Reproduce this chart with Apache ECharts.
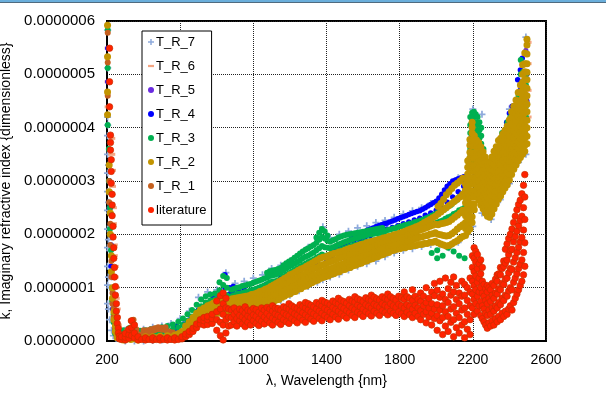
<!DOCTYPE html>
<html><head><meta charset="utf-8">
<script src="https://cdn.jsdelivr.net/npm/echarts@6/dist/echarts.min.js"></script>
<style>html,body{margin:0;padding:0;background:#fff}#c{width:606px;height:404px}</style>
</head><body><div id="c"></div>
<script>
// Axis ticks
const X_TICKS = [200, 600, 1000, 1400, 1800, 2200, 2600];
const Y_TICK_LABELS = ['0.0000000','0.0000001','0.0000002','0.0000003','0.0000004','0.0000005','0.0000006'];
// k values are stored in units of 1e-9; each row: [wavelength nm, k, k, ...]
const K_UNIT = 1e-9;

const literature = [
[214,549,486,439],
[219,386,372,358],[223,340,318,296],[228,275,255,235],[233,215,195],[237,175,155],[241,138,120],[246,102,86],[251,70,56],[256,44,33],[262,24,15],[268,9,4],
[280,3,8],[300,2,7,14],[320,5,12,22],[335,10,25,38],[350,6,15,30],[370,2,8],[390,3],[410,2,6],[430,3],[450,2,6],[470,3],[490,2,6],[510,3],[530,2,6],[550,3],[570,2,6],[590,3],
[610,4,8],[630,8,13],[650,12,18],[670,18,24],[690,25,32],[710,32,40],[730,30,38,44],[750,31,40,46],[775,33,42,50],[800,20,40,55,75],[820,10,35,60,85],[835,2,30,50,70,90],[850,15,40,62,80],[865,28,45,60],
[880,30,44,58],[895,36,50,62],[910,28,42,55],[925,38,48,60],[940,32,45,57],[955,27,40,52,64],[970,35,47,58],[985,30,44,56],[1000,38,49,61],[1015,33,46,59],[1030,29,41,54],[1045,37,50,62],[1060,32,45,58],[1075,40,52,63],[1090,34,47,60],[1105,30,43,56,66],[1120,39,51,62],[1135,35,48,61],[1150,31,45,58],[1165,40,53,64],[1180,36,49,62],[1195,33,47,60,70],[1210,42,55,66],[1225,38,51,63],[1240,34,48,61],[1255,44,57,68],[1270,39,53,65],[1285,35,49,62,72],[1300,45,58,70],[1315,41,54,67],[1330,37,51,64],[1345,47,60,72],[1360,42,56,69],[1375,38,52,66,76],[1390,48,61,73],[1405,44,58,71],[1420,40,54,68],[1435,50,63,75],[1450,45,59,72],[1465,41,56,70,80],[1480,51,64,76],[1495,47,61,74],[1510,43,57,71],[1525,53,66,78],[1540,48,62,75],[1555,44,59,73,83],[1570,54,67,79],[1585,50,64,77],[1600,46,60,74],[1615,55,68,81],[1630,51,65,78],[1645,47,62,76,86],[1660,56,69,82],[1675,52,66,79],[1690,48,63,77],[1705,57,70,83],[1720,53,67,80],[1735,49,64,78,88],[1750,56,70,83],[1765,52,66,80],[1780,48,63,77],[1795,55,69,84],[1810,51,66,81],[1825,46,62,78,92],[1840,54,68,83],[1855,49,65,80],[1870,44,60,76,96],[1885,52,67,84],[1900,46,62,78],[1915,40,57,74,90],[1930,50,66,84],[1945,34,55,72,100],[1960,45,62,80],[1975,30,52,70,92],[1990,42,60,85,108],
[2005,20,48,68,95],[2020,38,58,82,112],[2035,12,44,66,88],[2050,28,55,78,118],[2065,18,46,72,98],[2080,35,60,86,110],[2095,8,40,64,92,120],[2110,25,52,78,104],[2125,15,44,70,90],[2140,30,58,84,112],[2155,6,36,62,86,106],[2170,22,50,76,100],[2185,12,40,66,92,118],
[2198,62,88,112,138,160],[2207,50,78,104,130,155,175],[2216,70,96,122,148,168],[2225,56,84,110,136,162],[2234,66,92,118,145],[2243,48,74,100,126,152],[2252,42,66,90,112,138],[2261,36,60,84,106],[2270,30,52,76,98],[2279,24,48,70,92,104],[2288,34,58,80,100],[2297,28,50,74,96],[2306,38,62,86,108],[2315,30,56,80,104],[2324,42,66,90,116],[2333,36,62,88,112,124],[2342,46,72,98,126],[2351,40,68,96,124,138],[2360,52,80,108,136],[2369,46,76,106,140,150],[2378,56,86,116,146,172],[2387,50,84,118,152,182],[2396,60,94,128,162,192],[2405,66,100,136,170,200],[2414,58,96,134,172,210],[2423,72,110,148,186,222],[2432,80,118,156,196,234],[2441,88,126,166,206,246],[2450,96,136,176,216,256],[2459,104,144,186,226,264],[2468,112,152,194,234,276],[2477,124,166,208,250,292],[2484,140,184,228,270,312]
];

const TR2 = [
[203,592,533,467,424],
[212,330,280],[218,240,200],[224,160,130],[230,100,80],[238,55,40],[246,28,18],[256,12,6],
[270,4],[290,6,2],[310,5],[330,3,8],[350,4],[370,2,7],[390,5],[410,3,8],[430,5],[450,3,8],[470,6],[490,4,9],[510,6],[530,4,10],[550,7],[570,5,11],[590,8,14],
[610,10,18],[630,20,28],[650,27,36],[670,33,44],[690,42,52],[710,48,58],[730,52,62],[750,50,60,66],[765,52,62,68],
[780,50,57,64,71],[795,53,61,68,74],[810,52,59,66,73],[825,55,62,70,76],[840,54,61,68,75],[855,56,63,71,78],[870,55,62,69,77],[885,57,65,72,79],[900,56,64,71,80],[915,59,66,74,81],[930,58,65,73,82],[945,60,68,76,83],[960,59,67,75,84],[975,62,69,77,85],[990,61,70,78,87],[1005,64,72,80,88],[1020,63,72,81,90],[1035,66,75,84,93],[1050,65,74,84,94],[1065,69,78,87,97],[1080,68,78,88,99],[1095,72,81,91,102],[1110,73,83,94,105],[1125,77,86,96,108],[1140,78,88,99,111],[1155,82,92,102,114],[1170,84,94,105,117],[1185,87,97,108,120],[1200,88,99,111,124],[1215,92,102,114,126],[1230,93,104,116,129],[1245,97,107,119,132],[1260,98,109,122,135],[1275,102,112,124,137],[1290,103,114,127,140],[1305,107,118,130,143],[1320,109,120,133,146],[1335,112,123,136,149],[1350,114,125,138,152],[1365,117,128,141,155],[1380,119,130,143,157],[1395,121,132,145,158],[1410,122,134,147,160],[1425,125,136,149,162],[1440,126,138,151,164],[1455,129,140,153,165],[1470,130,142,155,167],[1485,133,144,157,168],[1500,134,146,158,170],[1515,137,148,160,172],[1530,138,150,162,174],[1545,141,152,164,175],[1560,142,154,166,177],[1575,145,156,168,179],[1590,146,158,170,181],[1605,149,160,171,182],[1620,150,161,173,184],[1635,153,164,175,185],[1650,154,165,177,187],[1665,157,168,179,188],[1680,158,169,180,190],[1695,161,172,182,191],[1710,162,173,184,193],[1725,165,175,186,194],[1740,166,177,188,196],[1755,169,179,189,197],[1770,170,180,191,199],[1785,172,182,192,200],[1800,173,183,194,202],[1815,175,185,196,204],[1830,175,186,197,206],[1845,177,188,199,208],[1860,177,189,201,210],[1875,179,191,203,212],[1890,179,192,205,214],[1905,181,194,207,216],[1920,181,195,209,219],[1935,183,197,211,222],[1950,183,198,213,225],[1965,185,200,215,228],[1980,185,201,217,231],[1995,187,203,219,234],
[2010,184,200,218,238,252],[2025,182,199,220,242,258],[2040,180,198,221,246,266],[2055,178,197,222,250,274],[2070,179,198,224,254,280],[2085,182,201,228,258,286],[2100,185,205,232,262,292],[2115,188,210,236,266,296],[2130,192,214,240,270,300],[2145,196,218,245,275,305],
[2160,198,211,222,235,246,259,270,283,294],[2172,205,216,229,240,254,265,278,289,302,313,326,338],[2184,210,223,234,247,258,271,282,295,306,319,330,343,354,367,378],[2196,222,233,246,257,270,281,294,305,318,329,342,353,366,377,390,401,410],[2208,246,257,270,281,294,305,318,329,342,353,366,377,385],[2220,272,283,296,307,320,331,344,355,368,377],[2232,265,276,289,300,313,324,337,348,361,372],[2244,255,266,279,290,303,314,327,338,351,364],[2256,248,259,272,283,296,307,320,331,344,355],[2268,240,251,264,275,288,299,312,323,336,345],[2280,234,245,258,269,282,293,306,317,330,336],[2292,232,243,256,267,280,291,304,315,328,333],[2304,238,249,262,273,286,297,310,321,334,345],[2316,248,259,272,283,296,307,320,331,344,356],[2328,257,268,281,292,305,316,329,340,353,364],[2340,266,277,290,301,314,325,338,349,362,376],[2352,272,283,296,307,320,331,344,355,368,380],[2364,280,291,304,315,328,339,352,363,376,388],[2376,287,298,311,322,335,346,359,370,383,395],[2388,293,304,317,328,341,352,365,376,389,403],[2400,302,313,326,337,350,361,374,385,398,415],[2412,312,323,336,347,360,371,384,395,408,419,430],[2424,322,333,346,357,370,381,394,405,418,429,440],[2436,330,341,354,365,378,389,402,413,426,437,452],[2448,338,349,362,373,386,397,410,421,434,445,466],[2460,344,355,368,379,392,403,416,427,440,451,466,480],[2472,350,361,374,385,398,409,422,433,446,457,470,485,500,518],[2484,356,367,380,391,404,415,428,439,452,463,476,490,505,520,540],[2496,370,384,400,414,430,444,460,474,490,504,520,538,555,566]
];

const TR3 = [
[204,583,512,405],
[210,360,300],[216,250,210],[222,170,130],[228,100,75],[236,50,35],[244,22,14],
[260,10,18],[290,12,20],[320,14,24],[350,10,18],[380,11,19],[410,12,20],[440,14,22],[470,15,24],[500,17,26],[530,19,28],[560,22,31],[590,26,36],
[615,30,42],[640,38,50],[665,46,58],[690,55,68],[715,65,78],[740,72,84],[765,76,87],[790,78,89],[815,82,95,110],[835,88,105,122],[855,86,100,118],
[880,84,96],[895,86,98],[910,88,100],[925,89,101],[940,90,103],[955,92,104],[970,93,106],[985,95,107],[1000,96,109],[1015,98,111],[1030,100,113],[1045,102,115],[1060,104,117],[1075,107,119,128],[1090,110,122,131],[1105,111,123,132],[1120,112,124,133],[1135,114,126,135],[1150,116,128,137],[1165,120,132,142],[1180,124,136,146],[1195,127,139,149],[1210,130,142,152],[1225,133,145,156],[1240,136,148,160],[1255,139,151,164],[1270,142,155,168],[1285,145,158,171],[1300,148,160,174],[1315,150,163,177],[1330,153,166,180],[1345,156,170,184,194],[1360,159,174,190,203],[1375,162,178,195,210],[1390,160,176,192,206],[1405,161,175,188,198],[1420,162,174,186],[1435,164,176,189],[1450,166,178,191],[1465,169,181,194],[1480,171,183,196],[1495,173,185,198],[1510,175,187,199],[1525,177,189,200],[1540,178,190,201],[1555,180,192,202],[1570,181,193,203],[1585,183,195,204],[1600,184,196,205],[1615,186,198,206],[1630,187,199,207],[1645,188,200,208],[1660,189,201,209],[1675,190,202,210],[1690,192,203,211],[1705,193,204,212],[1720,195,206],[1735,196,208],[1750,197,209],[1765,199,211],[1780,200,212],[1795,202,214],[1810,203,215],[1825,205,217],[1840,206,218],[1855,208,220],[1870,209,221],[1885,210,223],[1900,211,224],[1915,212,226],[1930,214,228],[1945,215,230],[1960,216,232],[1975,218,235,165],[1990,220,237],[2005,222,240,170,155],[2020,224,242],[2035,226,245,160],[2050,229,248],[2065,232,252,175],[2080,234,255],[2095,238,260,168],[2110,240,264],[2125,245,270,160],[2140,247,274],[2155,250,280,155],
[2186,330,345,360,375,390,405,420],[2196,325,340,355,370,385,400,415,428],[2206,330,345,360,375,390,405,420,430],[2216,335,350,365,380,395,410,425],[2226,330,345,360,375,390,405,420],[2236,320,335,350,365,380,395,410],[2246,310,325,340,355,370,385,400],[2258,300,315,330,345,360],[2270,290,305,320,335],[2285,285,300,315,330],[2300,280,295,310,325],[2315,285,300,315,330],[2330,290,305,320,340,355],[2345,295,312,330,348,365],[2360,300,318,336,354,372,390],[2375,305,325,345,365,385],[2390,315,335,355,375,395,410],[2405,320,340,360,380,400,420],[2420,335,355,375,395,415,430],[2435,345,365,385,405,425,440],[2450,360,380,400,420,440,460],[2462,380,400,420,440,460,480,500,527],[2475,400,420,440,460,480,505],[2490,420,440,460,480,500,520]
];

const TR4 = [
[205,549,486],[214,300,250],[222,180,140],[232,90,60],[242,35,20],
[300,8,14],[400,10,16],[500,14,20],[580,20,28],
[620,32],[660,44],[700,58],[740,68],[780,72,80],[820,78,86],[845,124,100],[870,100,88],[890,102,90],[920,94,86],[950,96,86],[980,92,84],[1010,96,88],[1040,100,92],[1070,106,98],[1100,110,102],[1150,118,110],[1200,126,118],[1250,134,126],[1300,142,134],[1350,150,142],[1400,156,148],[1430,166,158],[1445,170],[1460,172,164],[1475,177],[1490,180,172],[1505,183],[1520,186,178],[1535,191],[1550,195,186],[1565,198],[1580,200,190],[1595,203],[1610,205,194],[1625,208],[1640,210,198],[1655,212],[1670,214,202],[1685,216],[1700,218,206],[1715,220],[1730,221,210],[1745,223],[1760,225,213],[1775,227],[1790,229,216],[1805,231],[1820,233,220],[1835,235],[1850,237,223],[1865,239],[1880,241,227],[1895,243],[1910,244,230],[1925,247],[1940,250,236],[1955,253],[1970,256,240],[1985,259],[2000,262,245],[2015,268],[2030,275,250],[2045,283],[2060,290,260],[2075,295],[2090,300,270],[2105,302],[2120,304,280],[2135,306],[2150,308,290],
[2190,300,340,380],[2210,310,350,390],[2230,330,370],[2250,280,320,360],[2270,250,290,330],[2290,240,270],[2300,245,275,310],[2330,270,300,340],[2350,290,330,360],[2370,290,330,370],[2385,300,340,380,410],[2400,300,345,400,427],[2415,320,360,400,440],[2430,330,380,430],[2445,345,395,450,490],[2460,360,420,470,508],[2470,380,440,500,530],[2480,400,460,520],[2495,450,500,555]
];

const TR5 = [
[205,549],[220,250],[240,60],[400,12],[800,80],[1200,125],[1600,190],[2000,240],[2300,300],[2450,430],[2490,545]
];

const TR6 = [
[206,549,486,439],
[226,380,350],[230,320,290],[235,250,220],[240,180,160],[245,140,120],[250,100,80],[256,60,45],[262,30,20],
[900,70],[1200,110],[1500,160],[1800,200],[2100,270],
[2205,300,400],[2250,350,280],[2300,250,320],[2340,290,350],[2380,320,390],[2420,350,440],[2460,390,470],[2502,420,470,520,560]
];

const TR7 = [
[204,583,512,405],
[203,420,385,350,315,280,245,210,175,140,105,70],[208,330,260,190,120,60],[215,240,170,100,40],[225,120,60,20],[235,40,10],
[250,5,15],[300,0,20],[350,0,24],[400,0,22],[450,1,26],[500,2,28],[550,3,33],[600,5,42],[650,24,56],[700,40,82],[750,46,92],[800,50,96],[850,52,128],[900,56,108],[950,58,112],[1000,61,118],[1050,65,124],[1100,70,136],[1150,76,142],[1200,86,150],[1250,94,160],[1300,102,176],[1350,110,192],[1380,115,214],[1420,120,194],[1470,125,200],[1520,133,206],[1570,140,212],[1620,145,216],[1670,150,222],[1720,158,226],[1770,165,232],[1820,170,238],[1870,173,244],[1920,177,250],[1970,181,258],[2020,180,268],[2070,175,290],[2120,185,306],[2170,200,312],
[2200,215,435],[2250,240,425],[2300,228,340],[2350,265,380],[2400,295,435],[2450,335,490],[2490,350,570]
];

const TR1 = [
[204,578,522,460],
[212,300,260],[218,220,180],[224,150,120],[230,90,70],[236,60,45],[244,35,25],[252,18,10],
[270,6,12],[290,4,10],[310,8,20],[330,25,38],[345,30,40],[360,15,22],[380,12,6],[400,14,20],[420,20,15],[440,22,16],[460,20,24],[480,22,26],[500,21,25],[520,20,26],[540,18],[560,16,10],[580,12],
[700,50],[1000,75],[1300,120],[1600,160],[1900,195],[2200,300],[2400,350],[2490,450]
];

function pts(rows){
  const out = [];
  rows.forEach(r => { for (let i = 1; i < r.length; i++) out.push([r[0], r[i]]); });
  return out;
}

const PLUS = 'path://M3,0H5V3H8V5H5V8H3V5H0V3H3Z';
const DASH = 'path://M0,0H8V3H0Z';

function sc(name, rows, symbol, size, color, border){
  return {
    name, type:'scatter', data: pts(rows), symbol, symbolSize:size,
    itemStyle:{color, borderColor: border || color, borderWidth: border ? 0.7 : 0, opacity:1},
    emphasis:{disabled:true}, silent:true, animation:false
  };
}

const chart = echarts.init(document.getElementById('c'), null, {renderer:'canvas'});
const FONT = 'Liberation Sans, Arial, sans-serif';
const legendIcon = (name, icon) => ({name, icon, itemStyle:{borderWidth:0}});
chart.setOption({
  animation:false,
  backgroundColor:'#fff',
  graphic:[
    {type:'rect', shape:{x:0,y:0,width:606,height:2}, style:{fill:'#6aaedb'}, silent:true},
    {type:'rect', shape:{x:0,y:2,width:606,height:1}, style:{fill:'#4f6b80'}, silent:true}
  ],
  grid:{left:107, right:60, top:21, bottom:63, show:true, borderColor:'#000', borderWidth:2, backgroundColor:'transparent', containLabel:false, outerBoundsMode:'none'},
  xAxis:{
    type:'value', min:X_TICKS[0], max:X_TICKS[X_TICKS.length-1], interval:X_TICKS[1]-X_TICKS[0],
    name:'λ, Wavelength {nm}', nameLocation:'middle', nameGap:33,
    nameTextStyle:{fontSize:14, color:'#000', fontFamily:FONT},
    axisLine:{show:true, lineStyle:{color:'#000', width:2}},
    axisTick:{show:false},
    axisLabel:{fontSize:14, color:'#000', fontFamily:FONT, margin:12, formatter: v => String(v)},
    splitLine:{show:true, lineStyle:{color:'#222', type:'dotted', width:1}}
  },
  yAxis:{
    type:'value', min:0, max:600, interval:100,
    name:'k, Imaginary refractive index {dimensionless}', nameLocation:'middle', nameGap:92,
    nameTextStyle:{fontSize:14, color:'#000', fontFamily:FONT},
    axisLine:{show:true, lineStyle:{color:'#000', width:2}},
    axisTick:{show:false},
    axisLabel:{fontSize:15, color:'#000', fontFamily:FONT, margin:12,
      formatter: v => Y_TICK_LABELS[Math.round(v/100)]},
    splitLine:{show:true, lineStyle:{color:'#222', type:'dotted', width:1}}
  },
  legend:{
    left:142, top:31, orient:'vertical', selectedMode:false,
    backgroundColor:'#fff', borderColor:'#000', borderWidth:1,
    padding:[4,5,8,6], itemGap:10, itemWidth:6, itemHeight:6,
    textStyle:{fontSize:13, color:'#000', fontFamily:FONT, lineHeight:14, padding:[0,0,0,-3]},
    data:[
      legendIcon('T_R_7', PLUS),
      legendIcon('T_R_6', DASH),
      legendIcon('T_R_5', 'circle'),
      legendIcon('T_R_4', 'circle'),
      legendIcon('T_R_3', 'circle'),
      legendIcon('T_R_2', 'circle'),
      legendIcon('T_R_1', 'circle'),
      legendIcon('literature', 'circle')
    ]
  },
  series:[
    sc('T_R_7', TR7, PLUS, 7, '#8eaadc'),
    sc('T_R_6', TR6, 'rect', [7,3], '#f4a582'),
    sc('T_R_5', TR5, 'circle', 5, '#6a2be0'),
    sc('T_R_4', TR4, 'circle', 5.5, '#0000ff'),
    sc('T_R_3', TR3, 'circle', 6, '#00b050'),
    sc('T_R_1', TR1, 'circle', 6, '#c5601f'),
    sc('T_R_2', TR2, 'circle', 7, '#c29400'),
    sc('literature', literature, 'circle', 6.5, '#ff2200', '#c83000')
  ]
});
</script>
</body></html>
